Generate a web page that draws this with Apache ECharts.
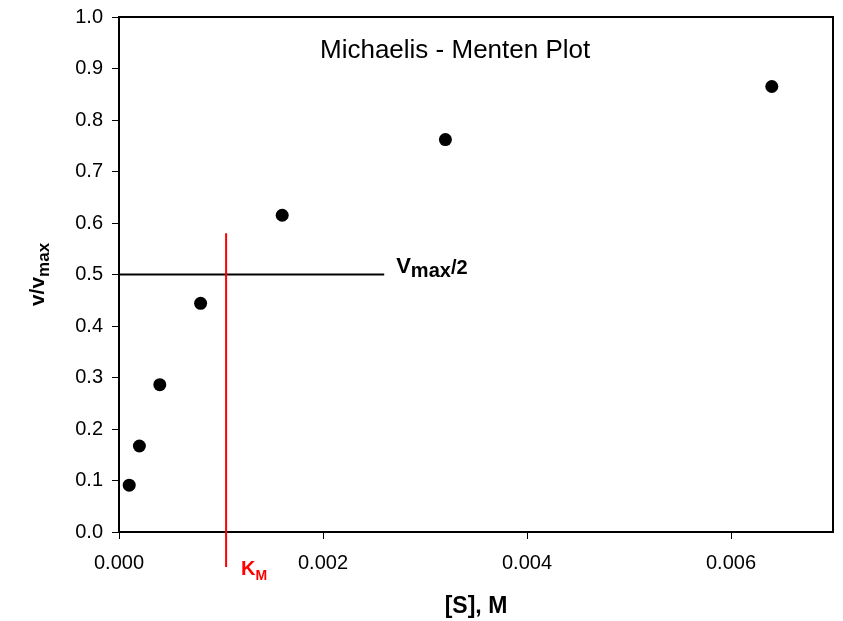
<!DOCTYPE html>
<html>
<head>
<meta charset="utf-8">
<script src="https://cdn.jsdelivr.net/npm/echarts@6/dist/echarts.min.js"></script>
<style>
  html, body { margin: 0; padding: 0; background: #fff; }
  #chart { width: 843px; height: 621px; }
</style>
</head>
<body>
<div id="chart"></div>
<script>
// Substrate concentrations [S] (M) and relative velocities v/vmax
var substrate = [0.0001, 0.0002, 0.0004, 0.0008, 0.0016, 0.0032, 0.0064];
var velocity  = [0.091, 0.167, 0.286, 0.444, 0.615, 0.762, 0.865];

// Guide lines
var halfLineX = [0, 0.0026];      // horizontal line at v/vmax = 0.5
var halfLineY = 0.5;
var kmX = 0.00105;                // vertical KM line
var kmLineY = [-0.068, 0.58];

// Tick values
var xTicks = [0, 0.002, 0.004, 0.006];
var yTicks = [0, 0.1, 0.2, 0.3, 0.4, 0.5, 0.6, 0.7, 0.8, 0.9, 1.0];

var FONT = '"Liberation Sans", Arial, sans-serif';

var scatterData = substrate.map(function (s, i) { return [s, velocity[i]]; });

var hData = [
  { value: [halfLineX[0], halfLineY], label: { show: false } },
  {
    value: [halfLineX[1], halfLineY],
    label: {
      show: true,
      position: 'right',
      distance: 12,
      offset: [0, -8],
      formatter: '{vv|V}{mx|max}{sl|/2}',
      rich: {
        vv: { fontFamily: FONT, fontWeight: 'bold', fontSize: 22, color: '#000', lineHeight: 30, verticalAlign: 'middle' },
        mx: { fontFamily: FONT, fontWeight: 'bold', fontSize: 20, color: '#000', lineHeight: 20, verticalAlign: 'bottom' },
        sl: { fontFamily: FONT, fontWeight: 'bold', fontSize: 20, color: '#000', lineHeight: 30, verticalAlign: 'middle', padding: [3, 0, 0, 0] }
      }
    }
  }
];

var kmData = [
  {
    value: [kmX, kmLineY[0]],
    label: {
      show: true,
      position: 'right',
      distance: 15,
      offset: [0, 2],
      formatter: '{k|K}{m|M}',
      rich: {
        k: { fontFamily: FONT, fontWeight: 'bold', fontSize: 20, color: '#ff0000', lineHeight: 28 },
        m: { fontFamily: FONT, fontWeight: 'bold', fontSize: 14, color: '#ff0000', lineHeight: 16, verticalAlign: 'bottom' }
      }
    }
  },
  { value: [kmX, kmLineY[1]], label: { show: false } }
];

var chart = echarts.init(document.getElementById('chart'), null, { renderer: 'canvas' });

chart.setOption({
  animation: false,
  backgroundColor: '#fff',
  textStyle: { fontFamily: FONT },
  title: {
    text: 'Michaelis - Menten Plot',
    left: 315,
    top: 33,
    textStyle: { fontFamily: FONT, fontSize: 26, fontWeight: 'normal', color: '#000' }
  },
  grid: {
    left: 119, right: 10, top: 17, bottom: 89,
    outerBoundsMode: 'none',
    containLabel: false,
    show: true, borderColor: '#000', borderWidth: 2, backgroundColor: 'transparent'
  },
  xAxis: {
    type: 'value',
    min: 0, max: 0.007, interval: 0.002,
    name: '[S], M',
    nameLocation: 'middle',
    nameGap: 63,
    nameTextStyle: { fontFamily: FONT, fontSize: 23, fontWeight: 'bold', color: '#000' },
    splitLine: { show: false },
    axisLine: { lineStyle: { color: '#000', width: 2 } },
    axisTick: { show: true, inside: false, length: 7, lineStyle: { color: '#000', width: 1 }, customValues: xTicks },
    axisLabel: {
      margin: 21, fontFamily: FONT, fontSize: 20, color: '#000',
      customValues: xTicks,
      formatter: function (v) { return v.toFixed(3); }
    }
  },
  yAxis: {
    type: 'value',
    min: 0, max: 1, interval: 0.1,
    name: '{a|v/v}{b|max}',
    nameLocation: 'middle',
    nameRotate: 90,
    nameGap: 66,
    nameTextStyle: {
      rich: {
        a: { fontFamily: FONT, fontSize: 21, fontWeight: 'bold', color: '#000', lineHeight: 30 },
        b: { fontFamily: FONT, fontSize: 17, fontWeight: 'bold', color: '#000', lineHeight: 18, verticalAlign: 'bottom' }
      }
    },
    splitLine: { show: false },
    axisLine: { lineStyle: { color: '#000', width: 2 } },
    axisTick: { show: true, inside: false, length: 7, lineStyle: { color: '#000', width: 1 }, customValues: yTicks },
    axisLabel: {
      margin: 16, fontFamily: FONT, fontSize: 20, color: '#000',
      customValues: yTicks,
      formatter: function (v) { return v.toFixed(1); }
    }
  },
  series: [
    {
      type: 'line',
      data: hData,
      symbol: 'circle',
      symbolSize: 0,
      showSymbol: true,
      itemStyle: { color: '#000' },
      lineStyle: { color: '#000', width: 2 },
      silent: true,
      z: 2
    },
    {
      type: 'line',
      data: kmData,
      symbol: 'circle',
      symbolSize: 0,
      showSymbol: true,
      clip: false,
      itemStyle: { color: '#ff0000' },
      lineStyle: { color: '#ff0000', width: 2 },
      silent: true,
      z: 3
    },
    {
      type: 'scatter',
      data: scatterData,
      symbol: 'circle',
      symbolSize: 13,
      itemStyle: { color: '#000', opacity: 1 },
      z: 4
    }
  ]
});
</script>
</body>
</html>
